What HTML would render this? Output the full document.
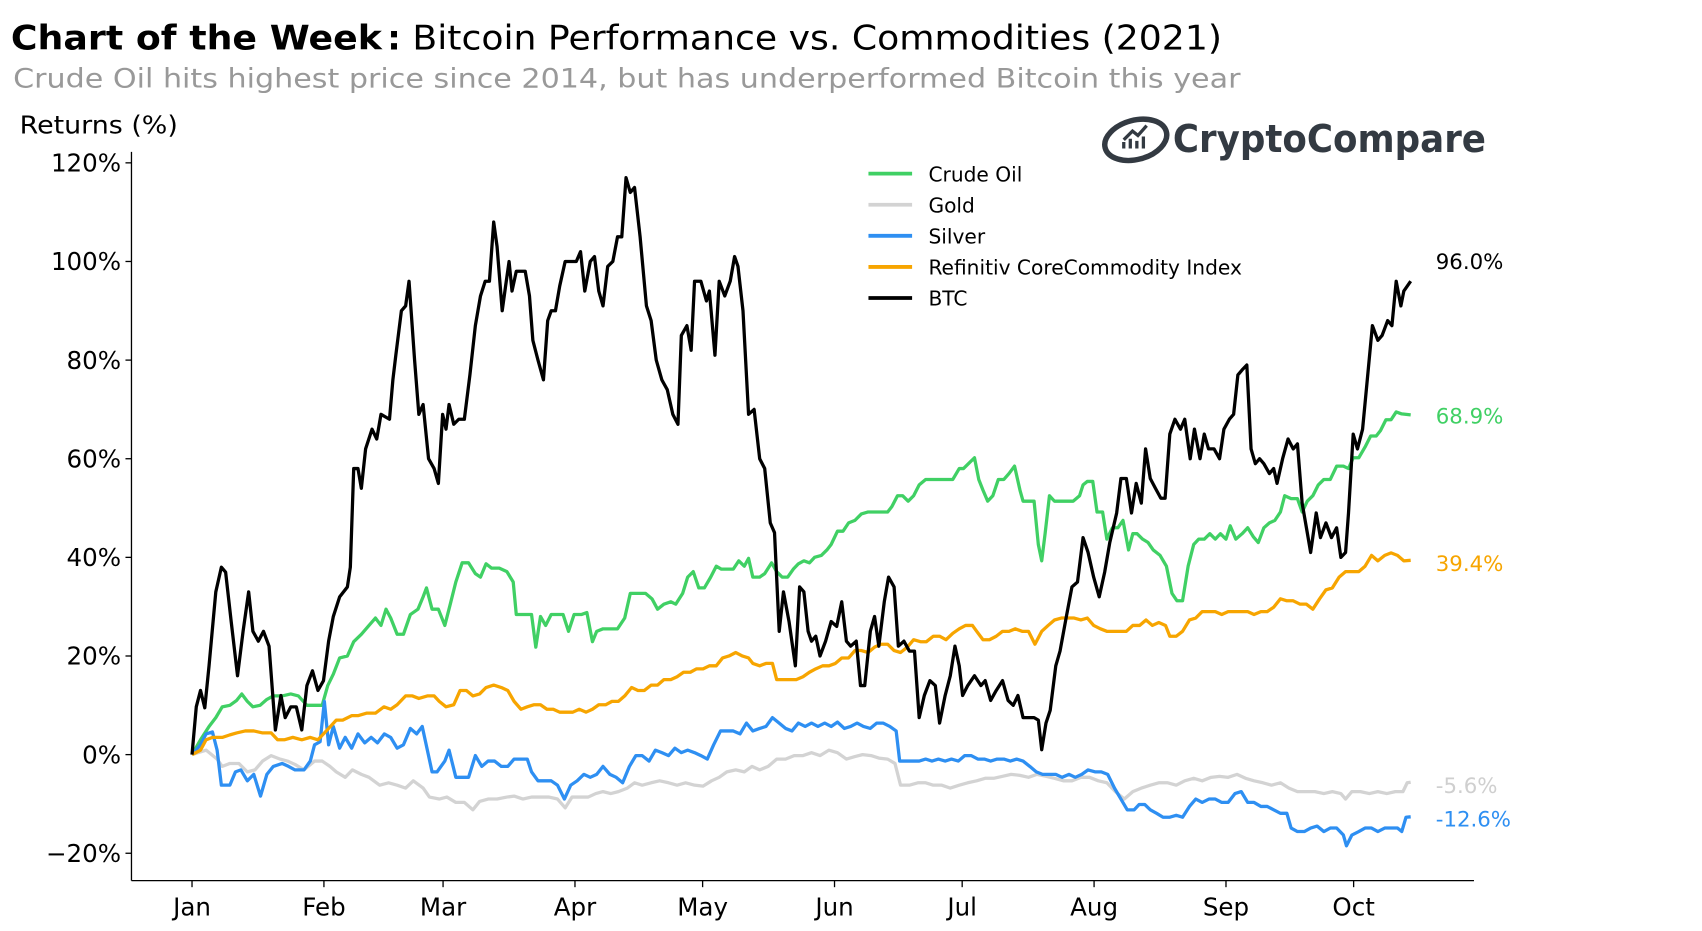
<!DOCTYPE html>
<html><head><meta charset="utf-8">
<style>
html,body{margin:0;padding:0;background:#fff;}
svg{display:block;font-family:"DejaVu Sans","Liberation Sans",sans-serif;}
</style></head>
<body>
<svg id="chart" width="1702" height="931" viewBox="0 0 1560 853" xmlns="http://www.w3.org/2000/svg">
<rect width="1560" height="853" fill="#fff"/>
<text x="10" y="45" font-size="31" font-weight="bold" fill="#000" textLength="340" lengthAdjust="spacingAndGlyphs">Chart of the Week</text>
<text x="355" y="45" font-size="31" font-weight="bold" fill="#000">:</text>
<text x="378" y="45" font-size="31" fill="#000" textLength="742" lengthAdjust="spacingAndGlyphs">Bitcoin Performance vs. Commodities (2021)</text>
<text x="12" y="80" font-size="24.5" fill="#999" textLength="1125" lengthAdjust="spacingAndGlyphs">Crude Oil hits highest price since 2014, but has underperformed Bitcoin this year</text>
<text x="18" y="122" font-size="22.5" fill="#000" textLength="145" lengthAdjust="spacingAndGlyphs">Returns (%)</text>
<g>
<ellipse cx="1041" cy="128" rx="29" ry="18" fill="none" stroke="#333a42" stroke-width="5" transform="rotate(-15 1041 128)"/>
<path d="M1030 136 v-6 M1036 136 v-9 M1042 136 v-7 M1048 136 v-11 M1030 128 l8 -8 l5 4 l8 -9" stroke="#333a42" stroke-width="3" fill="none"/>
<text x="1075" y="139" font-size="35" font-weight="bold" fill="#333a42" textLength="287" lengthAdjust="spacingAndGlyphs">CryptoCompare</text>
</g>
<g id="axes"></g>
<g id="series"></g>
<g id="legend"></g>
<g id="endlabels"></g>
</svg>
<script>
const months = ["Jan","Feb","Mar","Apr","May","Jun","Jul","Aug","Sep","Oct"];
const monthDays = [0,31,59,90,120,151,181,212,243,273];
const yTicks = [-20,0,20,40,60,80,100,120];

const btcDays=[0,1,2,3,4,5.6,6.9,7.9,9.2,10.7,12,13.3,14.3,15.6,16.8,18.1,19.6,20.9,21.9,23.2,24.5,25.8,27,28.3,29.6,30.9,32.1,33.2,34.7,36.5,37.2,38,39,39.8,40.8,42.3,43.4,44.4,46.4,47.2,47.9,49.2,50.2,51,52.3,53.3,54.3,55.6,56.9,57.9,58.9,59.7,60.4,61.5,62.7,64,65.3,66.6,67.8,68.9,69.9,70.9,71.7,72.9,73.7,74.5,75.2,76.2,77.3,78.3,79.3,80.1,81.3,82.6,83.6,84.4,85.4,86.4,87.7,89.3,90.3,91.3,92.3,93.6,94.6,95.6,96.6,97.7,98.9,100,101,102,103,104,105.3,106.8,107.9,109.1,110.4,111.7,113,114.2,115,116.3,117.3,118.1,119.6,120.9,121.6,122.9,123.9,125.2,126.5,127.5,128.3,129.5,130.8,132.1,133.4,134.6,135.9,136.9,138,139,140.3,141.8,142.8,143.8,144.8,145.6,146.6,147.6,148.9,150.2,151.5,152.7,153.8,154.8,156.1,157.1,158.1,159.4,160.4,161.4,162.7,163.7,165,166,167.3,168.6,169.8,170.9,172.1,173.4,174.7,175.7,177,178.2,179.3,180.3,181.1,182.3,183.9,185.4,186.4,187.7,189,190.5,191.8,193,194.1,195.3,196.6,197.9,198.9,199.7,200.7,201.7,203,204,205.5,206.8,208.1,209.4,210.6,211.9,213.2,214.5,215.7,217.3,218.3,219.6,220.8,221.9,223.1,224.1,225.2,226.4,227.7,228.7,229.8,231,232.3,233.3,234.6,235.6,236.9,237.9,238.9,240.2,241.5,242.5,243.8,244.8,245.8,246.8,247.9,248.9,249.9,250.9,251.9,253.2,254.2,255,256.3,257.6,258.8,259.8,260.9,262.1,262.9,264.2,265.2,266.5,267.8,269,270,271.1,271.8,272.9,273.9,275.1,276.2,277.4,278.7,279.7,281,282,283,284.1,284.8,286.4];
const btcVals=[0,9.7,13,9.5,18,33,38,37,27,16,25,33,25,23,25,22,5,12,7.5,9.7,9.7,5,14,17,13,15,23,28,32,34,38,58,58,54,62,66,64,69,68,76,81,90,91,96,80,69,71,60,58,55,69,66,71,67,68,68,77,87,93,96,96,108,103,90,95,100,94,98,98,98,93,84,80,76,88,90,90,95,100,100,100,102,94,100,101,94,91,99,100,105,105,117,114,115,105,91,88,80,76,74,69,67,85,87,82,96,96,92,94,81,96,93,96,101,99,90,69,70,60,58,47,45,25,33,27,18,34,33,25,23,24,20,23,27,26,31,23,22,23,14,14,25,28,22,31,36,34,22,23,21,21,7.5,12,15,14,6.4,12,16,22,18,12,14,16,14,15,11,13,15,11,10,12,7.5,7.5,7.5,7,1,6.4,9,18,21,28,34,35,44,41,36,32,37,43,49,56,56,49,55,51,62,56,54,52,52,65,68,66,68,60,66,60,65,62,62,60,66,68,69,77,78,79,62,59,60,59,57,58,55,60,64,62,63,51,45,41,49,44,47,44,46,40,41,49,65,62,66,76,87,84,85,88,87,96,91,94,96];

const oilDays=[0,2,4,5.6,7.1,8.9,10.5,11.7,13,14.3,16,17.6,19.1,21.2,23.2,25,27,29.3,30.6,31.9,33.2,34.7,36.5,38,39.8,41.6,43.1,44.4,45.6,46.7,48.2,49.7,51.3,53.1,54.3,55.1,56.4,57.9,59.4,60.7,62,63.5,65,66.6,67.8,69.1,70.4,72.2,74,75.5,76.2,77.8,79.8,80.8,81.9,83.1,84.4,85.7,87.2,88.5,89.8,91.5,92.8,94.1,95.1,96.6,98.4,100,101.7,103,104.3,106.6,108.1,109.4,110.9,112.5,113.7,115.3,116.5,117.8,119.1,120.4,121.9,123.2,124.4,125.7,127.2,128.5,129.8,130.8,131.8,133.4,134.6,136.2,137.4,138.7,140,141.3,142.5,143.8,145.1,146.3,147.9,149.2,150.2,151.7,153,154.3,155.8,157.3,158.9,160.4,161.9,163.5,164.5,165.8,167,168.3,169.6,170.9,172.4,173.7,174.9,176.2,177.5,178.8,180.3,181.3,182.6,183.9,184.9,185.9,187,188.2,189.5,190.8,192,193.3,194.6,195.3,196.6,197.9,198.9,199.7,200.5,201.5,202.7,204.3,205.8,207.1,208.6,209.4,210.4,211.7,212.7,214,215,216.3,217.6,218.8,220.1,221.1,222.1,223.4,224.7,225.9,227.5,229,230.3,231.5,232.8,234.1,235.4,236.6,237.9,239.2,240.5,241.7,243,244,245.3,246.8,248.1,249.4,250.6,251.9,253.2,254.5,255.8,256.8,258.3,259.8,260.9,262.1,263.4,264.7,266,267.5,269,270.6,271.8,272.9,274.2,275.7,277,278.3,279.3,280.6,281.8,283,284.3,286.4];
const oilVals=[0,3,5.7,7.5,9.7,10,11,12.3,10.8,9.7,10,11.2,11.9,11.9,12.3,11.9,10,10,10,14,16.3,19.6,20,22.9,24.4,26.2,27.7,26.2,29.5,27.7,24.4,24.4,28.4,29.5,32,33.8,29.5,29.5,26.2,30.5,35,38.9,38.9,36.7,36,38.7,37.8,37.8,37.1,35,28.4,28.4,28.4,21.8,28,26.2,28.4,28.4,28.4,25,28.4,28.4,28.8,22.9,25,25.5,25.5,25.5,27.7,32.7,32.7,32.7,31.6,29.5,30.5,31,30.5,32.7,36,37.1,33.8,33.8,36,38.2,37.6,37.6,37.6,39.3,38.2,39.8,36,36,36.7,38.9,37.1,36,36,37.6,38.7,39.3,38.9,40,40.4,41.5,42.6,45.3,45.3,47,47.5,48.8,49.2,49.2,49.2,49.2,50.3,52.5,52.5,51.4,52.5,54.7,55.8,55.8,55.8,55.8,55.8,55.8,58,58,59.1,60.2,55.8,53.6,51.4,52.5,55.8,55.8,57,58.5,53.6,51.4,51.4,51.4,42.6,39.3,44.8,52.5,51.4,51.4,51.4,51.4,52.5,54.7,55.4,55.4,49.2,49.2,43.7,46,46,47.5,41.5,44.8,44.8,43.7,43,41.5,40.4,38.2,32.7,31.2,31.2,38.2,42.6,43.7,43.7,44.8,43.7,44.8,43.7,46.4,43.7,44.8,46,44.2,43,46,47,47.5,49.2,52.5,51.9,51.9,49.2,51.4,52.5,54.7,55.8,55.8,58.5,58.5,58,60.2,60.2,62.4,64.6,64.6,65.7,67.9,67.9,69.5,69.1,68.9];

const goldDays=[0,3.3,5.9,7.1,8.9,11,13,14.8,16.6,18.6,20.7,22.4,24.2,26.3,28.8,30.6,32.4,33.9,36,37.7,39.8,41.6,44.1,46.2,48.2,50.2,52,54.3,55.8,58.1,59.9,62,64,66,67.6,69.6,71.7,74,75.7,77.8,79.8,81.9,83.9,85.9,87.7,89.3,91.3,93.1,94.9,96.6,98.4,100.2,102.3,104,105.8,107.9,109.9,112,114,116,118.1,120.1,122.1,123.9,125.7,127.8,129.8,131.6,133.4,135.4,137.4,139.5,141.5,143.6,145.6,147.6,149.7,151.7,153.8,155.8,157.6,159.6,161.4,163.5,165.2,166.5,168.6,170.6,172.4,174.2,176.2,178.2,180.3,182.3,184.4,186.4,188.4,190.5,192.5,194.6,196.6,198.6,200.7,202.7,204.8,206.8,208.9,210.9,213,215,217,219.1,221.1,223.1,225.2,227.2,229.3,231.3,233.3,235.4,237.4,239.5,241.5,243.5,245.6,247.6,249.6,251.7,253.7,255.8,257.8,259.8,261.9,263.9,266,268,270,271.1,272.6,274.6,276.7,278.7,280.8,282.8,284.6,285.6,286.4];
const goldVals=[0,0.9,-0.9,-2.4,-1.8,-1.8,-3.5,-3.1,-1.3,-0.2,-0.9,-1.3,-2,-3.1,-1.3,-1.3,-2.4,-3.5,-4.6,-3.1,-4,-4.6,-6.2,-5.7,-6.2,-6.8,-5.3,-6.8,-8.6,-9,-8.6,-9.7,-9.7,-11.2,-9.5,-9,-9,-8.6,-8.4,-9,-8.6,-8.6,-8.6,-9,-10.8,-8.6,-8.6,-8.6,-7.9,-7.5,-7.9,-7.5,-6.8,-5.7,-6.2,-5.7,-5.3,-5.7,-6.2,-5.7,-6.2,-6.4,-5.3,-4.6,-3.5,-3.1,-3.5,-2.4,-3.1,-2.4,-0.9,-0.9,-0.2,-0.2,0.4,-0.2,0.9,0.4,-0.9,-0.4,0,-0.2,-0.7,-0.9,-1.8,-6.2,-6.2,-5.7,-5.7,-6.2,-6.2,-6.8,-6.2,-5.7,-5.3,-4.8,-4.8,-4.4,-4,-4.2,-4.6,-4,-4.4,-4.8,-5.3,-5.3,-4.6,-4.6,-5.3,-5.7,-7.5,-9,-7.5,-6.8,-6.2,-5.7,-5.7,-6.2,-5.3,-4.8,-5.3,-4.6,-4.4,-4.6,-4,-4.8,-5.3,-5.7,-6.2,-5.7,-6.8,-7.5,-7.5,-7.5,-7.9,-7.5,-7.9,-9,-7.5,-7.5,-7.9,-7.5,-7.9,-7.5,-7.5,-5.7,-5.6];

const silverDays=[0,2,3.3,4.8,5.9,6.9,8.9,10.2,11.5,13,14.5,16.1,17.6,19.1,21.2,22.7,24.2,26.3,27.8,28.8,30.1,31.1,32.1,33.2,34.7,36,37.5,39,40.6,42.1,43.6,45.2,46.7,48.2,49.7,51.3,52.8,54.1,55.3,56.4,57.6,59.4,60.4,62,63.5,65,66.6,68.1,69.6,71.1,72.7,74.2,75.7,77.3,78.8,79.8,81.3,82.9,84.4,85.9,87.5,89,90.5,92.1,93.6,95.1,96.6,98.2,99.7,101.2,102.8,104.3,105.8,107.4,108.9,110.4,112,113.5,115,116.5,118.1,119.6,121.1,122.6,124.2,125.7,127.2,128.8,130.3,131.8,133.4,134.9,136.4,138,139.5,141,142.5,144.1,145.6,147.1,148.7,150.2,151.7,153.3,154.8,156.3,157.8,159.4,160.9,162.4,164,165.5,166.3,167.8,169.3,170.9,172.4,173.9,175.4,177,178.5,180.1,181.6,183.1,184.7,186.2,187.7,189.2,190.8,192.3,193.8,195.3,196.9,198.4,199.9,201.5,203,204.5,206.1,207.6,209.1,210.6,212.2,213.7,215.2,216.8,218.3,219.8,221.4,222.6,223.9,225.2,226.7,228.2,229.8,231.3,232.8,234.4,235.9,237.4,239,240.5,242,243.5,245.1,246.6,248.1,249.6,251.2,252.7,254.2,255.8,257.3,258.3,259.8,261.4,262.9,264.4,266,267.5,269,270.6,271.3,272.6,274.2,275.7,277.2,278.7,280.3,281.8,283.3,284.3,285.3,286.4];
const silverVals=[0,2,4.2,4.6,0.9,-6.2,-6.2,-3.5,-3.1,-5.3,-4,-8.4,-4,-2.4,-1.8,-2.4,-3.1,-3.1,-1.3,2,2.6,10.8,2,5.7,1.3,3.5,1.3,4.2,2.4,3.5,2.4,4.2,3.5,1.3,2,5.3,4.2,5.7,0.9,-3.5,-3.5,-1.3,0.9,-4.6,-4.6,-4.6,-0.2,-2.4,-1.3,-1.3,-2.4,-2.4,-0.9,-0.9,-0.9,-3.5,-5.3,-5.3,-5.3,-6.2,-9,-6.2,-5.3,-4,-4.6,-4,-2.4,-4,-4.6,-5.7,-2.4,-0.2,-0.2,-1.3,0.9,0.4,-0.2,1.3,0.4,0.9,0.4,-0.2,-0.9,2,4.8,4.8,4.8,4.2,6.4,4.8,5.3,5.7,7.5,6.4,5.3,4.8,6.4,5.7,6.4,5.7,6.4,5.7,6.6,5.3,5.7,6.4,5.7,5.3,6.4,6.4,5.7,4.8,-1.3,-1.3,-1.3,-1.3,-0.9,-1.3,-0.9,-1.3,-0.9,-1.3,-0.2,-0.2,-0.9,-0.9,-1.3,-0.9,-0.9,-1.3,-0.9,-1.3,-2.4,-3.5,-4,-4,-4,-4.6,-4,-4.6,-4,-3.1,-3.5,-3.5,-4,-6.8,-9,-11.2,-11.2,-10.1,-10.1,-11.2,-11.9,-12.7,-12.7,-12.3,-12.7,-10.5,-9,-9.7,-9,-9,-9.7,-9.7,-7.9,-7.5,-9.7,-9.7,-10.5,-10.5,-11.2,-11.9,-11.9,-14.9,-15.6,-15.6,-14.9,-14.5,-15.6,-14.9,-14.9,-16.3,-18.5,-16.3,-15.6,-14.9,-14.9,-15.6,-14.9,-14.9,-14.9,-15.6,-12.7,-12.6];

const idxDays=[0,2,3.3,4.8,7.1,8.9,10.5,12.5,14.5,16.6,18.6,20.1,21.7,23.7,25.8,27.8,29.6,30.9,32.1,33.9,35.4,37.5,39,41,43.1,45.1,46.7,48.2,50.2,51.8,53.3,55.3,56.9,58.1,59.7,61.5,63,64.5,66,67.6,69.1,70.9,72.7,74.2,75.7,77.3,78.8,80.3,81.9,83.4,84.9,86.4,88,89.5,91,92.6,94.1,95.6,97.2,98.7,100.2,101.7,103.3,104.8,106.3,107.9,109.4,110.9,112.5,114,115.5,117.1,118.6,120.1,121.6,123.2,124.7,126.2,127.8,129.3,130.8,131.8,133.4,134.9,136.4,137.4,139,140.5,142,143.6,145.1,146.6,148.2,149.7,151.2,152.7,154.3,155.8,157.3,158.9,160.4,161.9,163.5,165,166.5,168.1,169.6,171.2,172.6,174.2,175.7,177.2,178.8,180.3,181.8,183.4,184.4,185.9,187.4,189,190.5,192,193.5,195.1,196.6,198.1,199.7,201.2,202.7,204.3,205.8,207.3,208.9,210.4,211.9,213.5,215,216.5,218.1,219.6,221.1,222.7,224.2,225.7,227.2,228.8,229.8,231.3,232.8,234.4,235.9,237.4,239,240.5,242,243.5,245.1,246.6,248.1,249.6,251.2,252.7,254.2,255.8,257.3,258.8,260.4,261.9,263.4,265,266.5,268,269.6,271.1,272.6,274.2,275.7,277.2,278.7,280.3,281.8,283.3,284.8,286.4];
const idxVals=[0,0.9,3,3.5,3.5,4,4.4,4.8,4.8,4.4,4.4,3,3,3.5,3,3.5,3,4.2,5.3,7,7,7.9,7.9,8.4,8.4,9.7,9.2,10.1,11.9,11.9,11.4,11.9,11.9,10.8,9.7,10.1,13,13,11.9,12.3,13.6,14.1,13.6,13,10.8,9.2,9.7,10.1,10.1,9.2,9.2,8.6,8.6,8.6,9.2,8.6,9.2,10.1,10.1,10.8,10.8,11.9,13.6,13,13,14.1,14.1,15.2,15.2,15.8,16.7,16.7,17.4,17.4,18,18,19.6,20,20.7,20,19.6,18.5,18,18.5,18.5,15.2,15.2,15.2,15.2,15.8,16.7,17.4,18,18,18.5,19.6,19.6,21.1,21.1,20.7,21.8,22.4,22.4,21.1,20.7,21.8,23.3,22.9,22.9,24,24,23.3,24.6,25.5,26.2,26.2,25,23.3,23.3,24,25,25,25.5,25,25,22.4,25,26.2,27.3,27.7,27.7,27.7,27.3,27.7,26.2,25.5,25,25,25,25,26.2,26.2,27.3,26.2,26.8,26.2,24,24,25,27.3,27.7,29,29,29,28.4,29,29,29,29,28.4,29,29,29.9,31.6,31.2,31.2,30.5,30.5,29.5,31.6,33.4,33.8,36,37.1,37.1,37.1,38.2,40.4,39.3,40.4,40.9,40.4,39.3,39.4];

const endLabels=["96.0%","68.9%","39.4%","-5.6%","-12.6%"];

const NS="http://www.w3.org/2000/svg";
const X0=176, PXD=3.9, Y0=691.5, PXP=4.52;
function xs(d){return X0+d*PXD;}
function ys(v){return Y0-v*PXP;}
function mk(tag,attrs,parent){const e=document.createElementNS(NS,tag);for(const k in attrs)e.setAttribute(k,attrs[k]);parent.appendChild(e);return e;}

const axes=document.getElementById('axes');
let e=mk('line',{x1:120.5,y1:139,x2:120.5,y2:807,stroke:'#000','stroke-width':1.2},axes);


e=mk('line',{x1:120.5,y1:807,x2:1351,y2:807,stroke:'#000','stroke-width':1.2},axes);


yTicks.forEach(t=>{
  mk('line',{x1:115,y1:ys(t),x2:120.5,y2:ys(t),stroke:'#000','stroke-width':1.2},axes);
  const tx=mk('text',{x:111,y:ys(t)+8,'font-size':22.5,'text-anchor':'end',fill:'#000'},axes);
  tx.textContent=(t<0?'\u2212'+(-t):t)+'%';
  
  
});
months.forEach((m,i)=>{
  const x=xs(monthDays[i]);
  mk('line',{x1:x,y1:807,x2:x,y2:813,stroke:'#000','stroke-width':1.2},axes);
  const tx=mk('text',{x:x,y:839,'font-size':22.5,'text-anchor':'middle',fill:'#000'},axes);
  tx.textContent=m;
  
  
});

const series=[
  {name:'crude-oil',label:'Crude Oil',color:'#40d064',d:oilDays,v:oilVals},
  {name:'gold',label:'Gold',color:'#d3d3d3',d:goldDays,v:goldVals},
  {name:'silver',label:'Silver',color:'#2e8ff2',d:silverDays,v:silverVals},
  {name:'refinitiv-index',label:'Refinitiv CoreCommodity Index',color:'#f7a500',d:idxDays,v:idxVals},
  {name:'btc',label:'BTC',color:'#000',d:btcDays,v:btcVals}
];
const sg=document.getElementById('series');
series.forEach(s=>{
  let p='';
  s.d.forEach((d,i)=>{p+=(i?'L':'M')+xs(d).toFixed(1)+' '+ys(s.v[i]).toFixed(1);});
  const path=mk('path',{d:p,fill:'none',stroke:s.color,'stroke-width':3,'stroke-linejoin':'round'},sg);
  
  
});
const lg=document.getElementById('legend');
series.forEach((s,i)=>{
  const y=159+i*28.5;
  const g=mk('g',{},lg);
  
  
  mk('line',{x1:796,y1:y,x2:836,y2:y,stroke:s.color,'stroke-width':3.5},g);
  const t=mk('text',{x:851,y:y+7,'font-size':18.5,fill:'#000'},g);
  t.textContent=s.label;
});
const eg=document.getElementById('endlabels');
const order=[4,0,3,1,2];
order.forEach((si,i)=>{
  const s=series[si];
  const last=s.v[s.v.length-1];
  const yoff={4:-11,0:8,3:10,1:10,2:9}[si];
  const t=mk('text',{x:1316,y:ys(last)+yoff,'font-size':19.5,fill:s.color==='#d3d3d3'?'#cfcfcf':s.color},eg);
  t.textContent=endLabels[i];
  
  
});
</script>
</body></html>
